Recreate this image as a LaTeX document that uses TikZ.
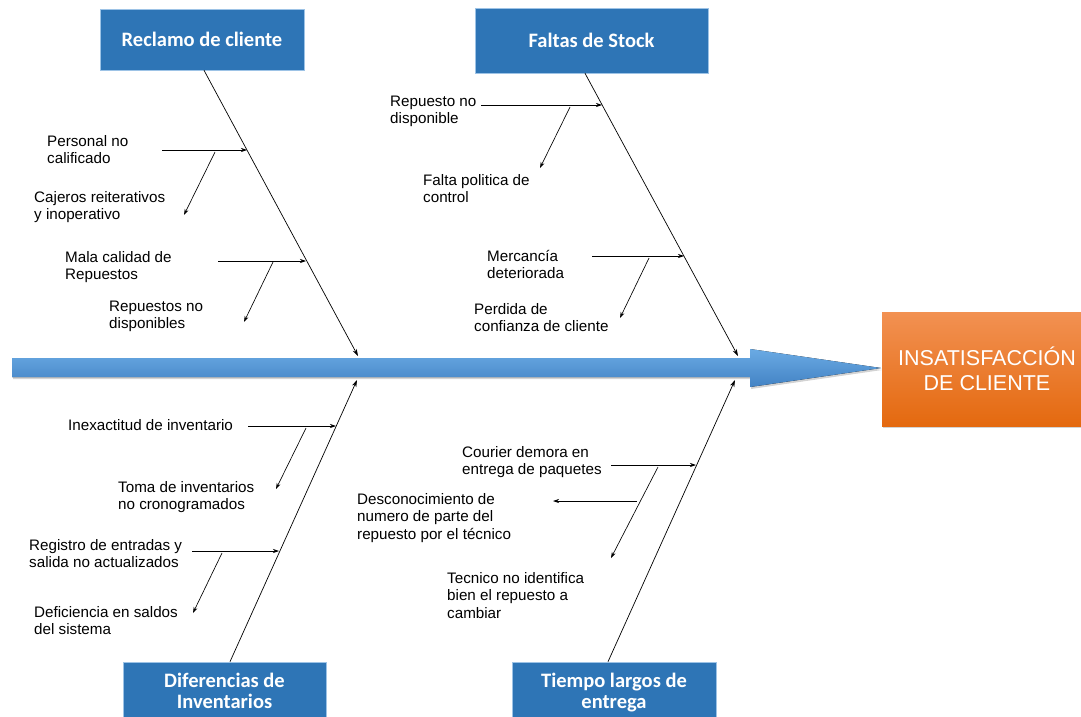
\documentclass[tikz,border=0pt]{standalone}
\usepackage{fontspec}
\setmainfont{Liberation Sans}
\newfontfamily\titlefont{Carlito}
\usetikzlibrary{arrows.meta,shadows,calc}
\definecolor{boxblue}{HTML}{2E75B6}
\definecolor{boxedge}{HTML}{9DC3E6}
\definecolor{arrtop}{HTML}{6AAAE4}
\definecolor{arrbot}{HTML}{4383C4}
\definecolor{orgtop}{HTML}{F29152}
\definecolor{orgbot}{HTML}{E4690F}
\begin{document}
\begin{tikzpicture}[x=1pt,y=-1pt,
  catbox/.style={draw=boxedge, line width=0.6pt, fill=boxblue, text=white,
    font=\titlefont\bfseries\fontsize{20.5}{21}\selectfont, align=center, inner sep=0pt},
  cause/.style={font=\fontsize{15.2}{17.5}\selectfont, align=left, anchor=base west, inner sep=0pt},
  bone/.style={-{Stealth[length=7pt,width=4.5pt]}, line width=0.7pt},
  sub/.style={-{Stealth[length=6pt,width=4pt]}, line width=0.65pt}]
\useasboundingbox (0,0) rectangle (1081,717);
\clip (0,0) rectangle (1081,717);

% main arrow
\fill[top color=arrtop, bottom color=arrbot, drop shadow={opacity=0.35, shadow xshift=1pt, shadow yshift=-2pt}]
  (12,358) -- (750,358) -- (750,349) -- (881,368) -- (750,387) -- (750,377) -- (12,377) -- cycle;
\coordinate (tlend) at (358,356);
\coordinate (trend) at (738,356);
\coordinate (blend) at (357,380);
\coordinate (brend) at (735,380);

% result box
\node[minimum width=210pt, minimum height=114pt, inner sep=0pt, top color=orgtop, bottom color=orgbot,
  drop shadow={opacity=0.35, shadow xshift=1pt, shadow yshift=-2pt}, text=white, align=center,
  font=\fontsize{21.5}{25}\selectfont] (result) at (987,369) {INSATISFACCIÓN\\DE CLIENTE};

% category boxes
\node[catbox, minimum width=204pt, minimum height=61pt] (reclamo) at (202,39.5) {Reclamo de cliente};
\node[catbox, minimum width=233pt, minimum height=65pt] (faltas) at (591.5,40.5) {Faltas de Stock};
\node[catbox, minimum width=203pt, minimum height=58pt] (difer) at (224.5,691) {Diferencias de\\Inventarios};
\node[catbox, minimum width=204pt, minimum height=62pt] (tiempo) at (614,693) {Tiempo largos de\\entrega};

% spines
\draw[bone] ([xshift=2pt]reclamo.south) -- (tlend);
\draw[bone] ([xshift=-6.5pt]faltas.south) -- (trend);
\draw[bone] ([xshift=5.5pt]difer.north) -- (blend);
\draw[bone] ([xshift=-6pt]tiempo.north) -- (brend);

% causes: Reclamo de cliente (anchor = baseline of last line)
\node[cause] (c1) at (47,163.5) {Personal no\\calificado};
\node[cause] (c2) at (34,219.5) {Cajeros reiterativos\\y inoperativo};
\node[cause] (c3) at (65,279.5) {Mala calidad de\\Repuestos};
\node[cause] (c4) at (109,328.5) {Repuestos no\\disponibles};
\coordinate (h1a) at (162,150); \coordinate (h1b) at (247,150);
\coordinate (d1a) at (215,152); \coordinate (d1b) at (184,215);
\coordinate (h2a) at (218,261); \coordinate (h2b) at (306,261);
\coordinate (d2a) at (273,262); \coordinate (d2b) at (244,322);
\draw[sub] (h1a) -- (h1b);
\draw[sub] (d1a) -- (d1b);
\draw[sub] (h2a) -- (h2b);
\draw[sub] (d2a) -- (d2b);

% causes: Faltas de Stock
\node[cause] (c5) at (390,123.5) {Repuesto no\\disponible};
\node[cause] (c6) at (423,202.5) {Falta politica de\\control};
\node[cause] (c7) at (487,278.5) {Mercancía\\deteriorada};
\node[cause] (c8) at (474,331.5) {Perdida de\\confianza de cliente};
\coordinate (h3a) at (481,105); \coordinate (h3b) at (602,105);
\coordinate (d3a) at (570,107); \coordinate (d3b) at (540,168);
\coordinate (h4a) at (592,256); \coordinate (h4b) at (684,256);
\coordinate (d4a) at (649,258); \coordinate (d4b) at (620,318);
\draw[sub] (h3a) -- (h3b);
\draw[sub] (d3a) -- (d3b);
\draw[sub] (h4a) -- (h4b);
\draw[sub] (d4a) -- (d4b);

% causes: Diferencias de Inventarios
\node[cause] (c9) at (68,430) {Inexactitud de inventario};
\node[cause] (c10) at (118,509.5) {Toma de inventarios\\no cronogramados};
\node[cause] (c11) at (29,567.5) {Registro de entradas y\\salida no actualizados};
\node[cause] (c12) at (34,634.5) {Deficiencia en saldos\\del sistema};
\coordinate (h5a) at (248,426); \coordinate (h5b) at (336,426);
\coordinate (d5a) at (306,428); \coordinate (d5b) at (276,489);
\coordinate (h6a) at (192,551); \coordinate (h6b) at (279,551);
\coordinate (d6a) at (222,553); \coordinate (d6b) at (193,613);
\draw[sub] (h5a) -- (h5b);
\draw[sub] (d5a) -- (d5b);
\draw[sub] (h6a) -- (h6b);
\draw[sub] (d6a) -- (d6b);

% causes: Tiempo largos de entrega
\node[cause] (c13) at (462,474.5) {Courier demora en\\entrega de paquetes};
\node[cause] (c14) at (357,539) {Desconocimiento de\\numero de parte del\\repuesto por el técnico};
\node[cause] (c15) at (447,618) {Tecnico no identifica\\bien el repuesto a\\cambiar};
\coordinate (h7a) at (611,465); \coordinate (h7b) at (696,465);
\coordinate (d7a) at (658,467); \coordinate (d7b) at (611,558);
\coordinate (h8a) at (637,501); \coordinate (h8b) at (553,501);
\draw[sub] (h7a) -- (h7b);
\draw[sub] (d7a) -- (d7b);
\draw[sub] (h8a) -- (h8b);
\end{tikzpicture}
\end{document}
